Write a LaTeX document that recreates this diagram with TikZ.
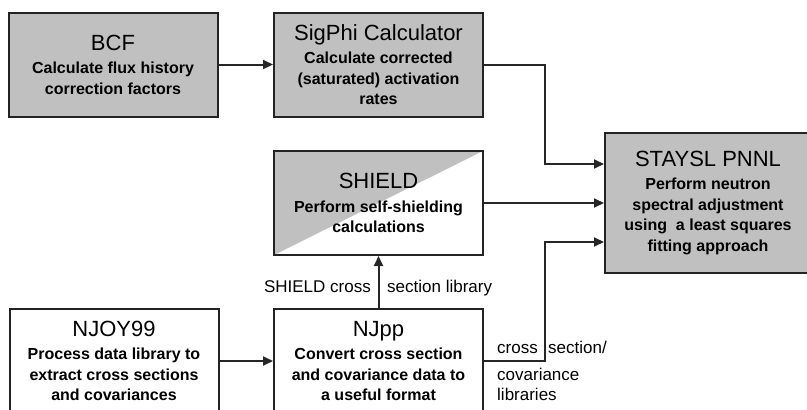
\documentclass[tikz,border=0pt]{standalone}
\usepackage{fontspec}
\setmainfont{Liberation Sans}
\usetikzlibrary{arrows.meta}
\definecolor{boxgray}{RGB}{192,192,192}
\definecolor{edgegray}{RGB}{35,35,35}
\newcommand{\progname}[1]{{\fontsize{22}{24}\selectfont\mdseries #1}\\[3pt]}

\begin{document}
\begin{tikzpicture}[x=1pt,y=-1pt,
  prog/.style={draw=edgegray,line width=2pt,minimum width=209pt,minimum height=104pt,
    inner sep=0pt,align=center,font=\fontsize{16}{20.5}\selectfont\bfseries},
  grayprog/.style={prog,fill=boxgray},
  halfprog/.style={prog,path picture={\fill[boxgray] (path picture bounding box.south west)
    |- (path picture bounding box.north east) -- cycle;}},
  flow/.style={draw=black!85,line width=2pt,-{Triangle[length=10pt,width=9pt]}},
  lbl/.style={inner sep=0pt,font=\fontsize{17}{20}\selectfont}]
\useasboundingbox (0,0) rectangle (807,410);
\node[grayprog] (bcf) at (113,64.5) {\progname{BCF}Calculate flux history\\correction factors};
\node[grayprog] (sigphi) at (378.5,64.5) {\progname{SigPhi Calculator}Calculate corrected\\(saturated) activation\\rates};
\node[halfprog] (shield) at (378.5,203) {\progname{SHIELD}Perform self-shielding\\calculations};
\node[grayprog,minimum width=206pt,minimum height=140pt] (staysl) at (708,203) {\progname{STAYSL PNNL}Perform neutron\\spectral adjustment\\using \ a least squares\\fitting approach};
\node[prog] (njoy) at (114,361) {\progname{NJOY99}Process data library to\\extract cross sections\\and covariances};
\node[prog] (njpp) at (378.5,361) {\progname{NJpp}Convert cross section\\and covariance data to\\a useful format};
\draw[flow] (bcf.east) -- (sigphi.west);
\draw[flow] (sigphi.east) -- ++(61,0) |- ([yshift=39pt]staysl.west);
\draw[flow] (shield.east) -- (staysl.west);
\draw[flow] (njoy.east) -- (njpp.west);
\draw[flow] (njpp.north) -- (shield.south);
\draw[flow] (njpp.east) -- ++(61,0) |- ([yshift=-39pt]staysl.west);
\node[lbl,anchor=base east] (shxlo) at (371,292) {SHIELD cross};
\node[lbl,anchor=base west] (shxhi) at (387,292) {section library};
\node[lbl,anchor=base west] (csleft) at (497,353) {cross};
\node[lbl,anchor=base west] (csright) at (548,353) {section/};
\node[lbl,anchor=base west] (covar) at (497,380) {covariance};
\node[lbl,anchor=base west] (libs) at (497,400) {libraries};
\end{tikzpicture}
\end{document}
